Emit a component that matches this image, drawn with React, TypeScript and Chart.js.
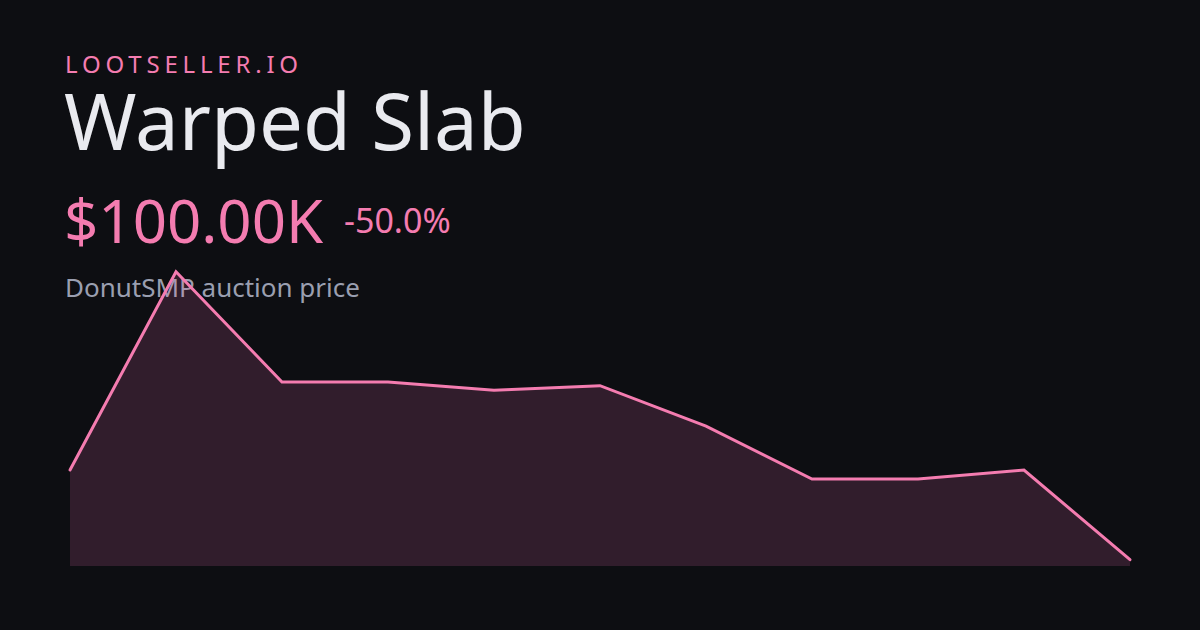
import React, { useEffect, useRef } from "react";
import { Chart, registerables } from "chart.js";

Chart.register(...registerables);

const labels = ["1", "2", "3", "4", "5", "6", "7", "8", "9", "10", "11"];
const prices = [200, 421, 298, 298, 289, 294, 249, 190, 190, 200, 100];

const BG = "#0d0e12";
const PINK = "#f47cb0";

export default function App() {
  const ref = useRef<HTMLCanvasElement>(null);

  useEffect(() => {
    document.body.style.margin = "0";
    document.body.style.background = BG;
    const chart = new Chart(ref.current!, {
      type: "line",
      data: {
        labels,
        datasets: [
          {
            data: prices,
            borderColor: PINK,
            borderWidth: 3,
            backgroundColor: "rgba(244,114,182,0.16)",
            fill: "start",
            pointRadius: 0,
            tension: 0,
            borderCapStyle: "round",
            borderJoinStyle: "miter",
            clip: false as any,
          },
        ],
      },
      options: {
        animation: false,
        responsive: false,
        maintainAspectRatio: false,
        layout: { padding: { left: 70, right: 70, top: 200, bottom: 64 } },
        plugins: { legend: { display: false }, tooltip: { enabled: false } },
        scales: {
          x: { display: false, offset: false },
          y: { display: false, min: 93, max: 501 },
        },
      },
    });
    return () => chart.destroy();
  }, []);

  const font = "'Noto Sans', sans-serif";
  const txt = (extra: React.CSSProperties): React.CSSProperties => ({
    position: "absolute",
    margin: 0,
    lineHeight: 1,
    fontFamily: font,
    whiteSpace: "nowrap",
    ...extra,
  });

  return (
    <div style={{ position: "relative", width: 1200, height: 630, background: BG, overflow: "hidden" }}>
      <div style={txt({ left: 65, top: 52, fontSize: 24, color: PINK, letterSpacing: "0.2em" })}>LOOTSELLER.IO</div>
      <div style={txt({ left: 64, top: 81, fontSize: 78, color: "#e9eaef" })}>Warped Slab</div>
      <div style={txt({ left: 64, top: 190, fontSize: 60, color: PINK })}>$100.00K</div>
      <div style={txt({ left: 344, top: 203, fontSize: 34, color: PINK })}>-50.0%</div>
      <div style={txt({ left: 65, top: 274, fontSize: 26, color: "#9a9fb0" })}>DonutSMP auction price</div>
      <canvas ref={ref} width={1200} height={630} style={{ position: "absolute", left: 0, top: 0 }} />
    </div>
  );
}
